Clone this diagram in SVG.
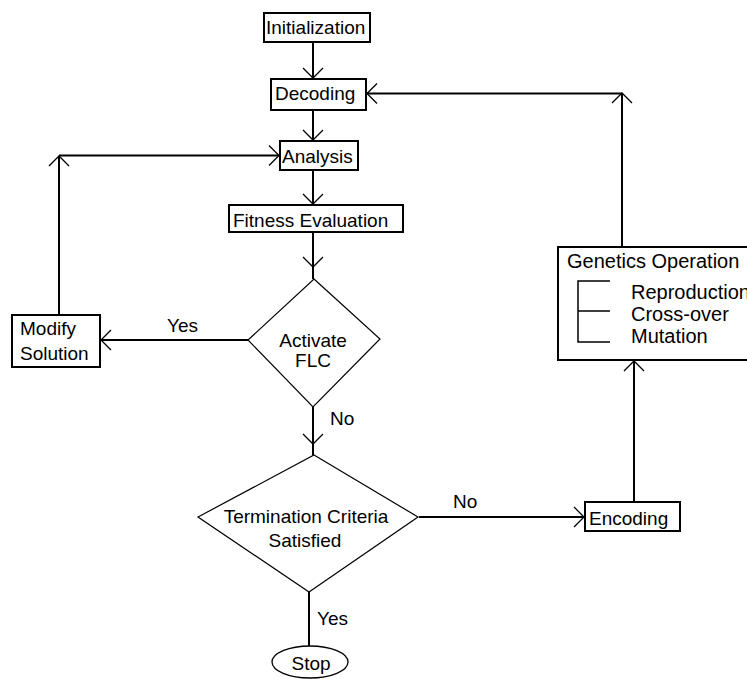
<svg xmlns="http://www.w3.org/2000/svg" width="747" height="679" viewBox="0 0 747 679">
<defs>
<style>
text{font-family:"Liberation Sans",Arial,sans-serif;font-size:19px;fill:#000}
.g{font-size:20px}
.box{fill:#fff;stroke:#000;stroke-width:2}
.dia{fill:#fff;stroke:#000;stroke-width:1.2}
.c{fill:none;stroke:#000;stroke-width:2}
.thin{fill:none;stroke:#000;stroke-width:1.5}
.mid{text-anchor:middle}
</style>
<marker id="ah" viewBox="-12 -12 24 24" refX="0" refY="0" markerWidth="24" markerHeight="24" markerUnits="userSpaceOnUse" orient="auto" overflow="visible">
<path d="M-10,-10 L0,0 L-10,10" fill="none" stroke="#000" stroke-width="1.3"/>
</marker>
</defs>
<rect width="747" height="679" fill="#fff"/>
<g id="connectors">
<path class="c" d="M313,42 L313,78" marker-end="url(#ah)"/>
<path class="c" d="M313,110 L313,140" marker-end="url(#ah)"/>
<path class="c" d="M313,170 L313,204" marker-end="url(#ah)"/>
<path class="c" d="M313,232 L313,267" marker-end="url(#ah)"/>
<path class="c" d="M313,267 L313,279"/>
<path class="c" d="M248,340 L101,340" marker-end="url(#ah)"/>
<path class="c" d="M59,315 L59,156" marker-end="url(#ah)"/>
<path class="c" d="M59,155.5 L279,155.5" marker-end="url(#ah)"/>
<path class="c" d="M313,407 L313,444" marker-end="url(#ah)"/>
<path class="c" d="M313,444 L313,455"/>
<path class="c" d="M419,517 L584,517" marker-end="url(#ah)"/>
<path class="c" d="M634,502 L634,361" marker-end="url(#ah)"/>
<path class="c" d="M622,247 L622,93" marker-end="url(#ah)"/>
<path class="c" d="M622,93.5 L367,93.5" marker-end="url(#ah)"/>
<path class="c" d="M309,592 L309,646"/>
<text x="167" y="332">Yes</text>
<text x="330" y="425">No</text>
<text x="453" y="508">No</text>
<text x="317" y="625">Yes</text>
</g>
<g id="initialization">
<rect class="box" x="264" y="13" width="106" height="29"/>
<text x="266" y="34">Initialization</text>
</g>
<g id="decoding">
<rect class="box" x="271" y="79" width="95" height="31"/>
<text x="275" y="100">Decoding</text>
</g>
<g id="analysis">
<rect class="box" x="280" y="141" width="78" height="29"/>
<text x="282" y="163">Analysis</text>
</g>
<g id="fitness">
<rect class="box" x="229" y="205" width="174" height="27"/>
<text x="233" y="227">Fitness Evaluation</text>
</g>
<g id="activate">
<polygon class="dia" points="314,279 380,339 313,407 248,340"/>
<text class="mid" x="313" y="347">Activate</text>
<text class="mid" x="313" y="367">FLC</text>
</g>
<g id="modify">
<rect class="box" x="12" y="315" width="88" height="52"/>
<text x="20" y="335">Modify</text>
<text x="20" y="360">Solution</text>
</g>
<g id="termination">
<polygon class="dia" points="314,455 418,517 309,592 198,517"/>
<text class="mid" x="306" y="523">Termination Criteria</text>
<text class="mid" x="305" y="547">Satisfied</text>
</g>
<g id="encoding">
<rect class="box" x="585" y="502" width="95" height="29"/>
<text x="589" y="525">Encoding</text>
</g>
<g id="genetics">
<rect class="box" x="558" y="247" width="200" height="113"/>
<text class="g" x="567" y="268">Genetics Operation</text>
<path class="thin" d="M610,281 L578,281 L578,342 L610,342 M578,311 L610,311"/>
<text class="g" x="631" y="299">Reproduction</text>
<text class="g" x="631" y="321">Cross-over</text>
<text class="g" x="631" y="343">Mutation</text>
</g>
<g id="stop">
<ellipse cx="310" cy="662" rx="38" ry="16" fill="#fff" stroke="#000" stroke-width="1.3"/>
<text class="mid" x="311" y="670">Stop</text>
</g>
</svg>
